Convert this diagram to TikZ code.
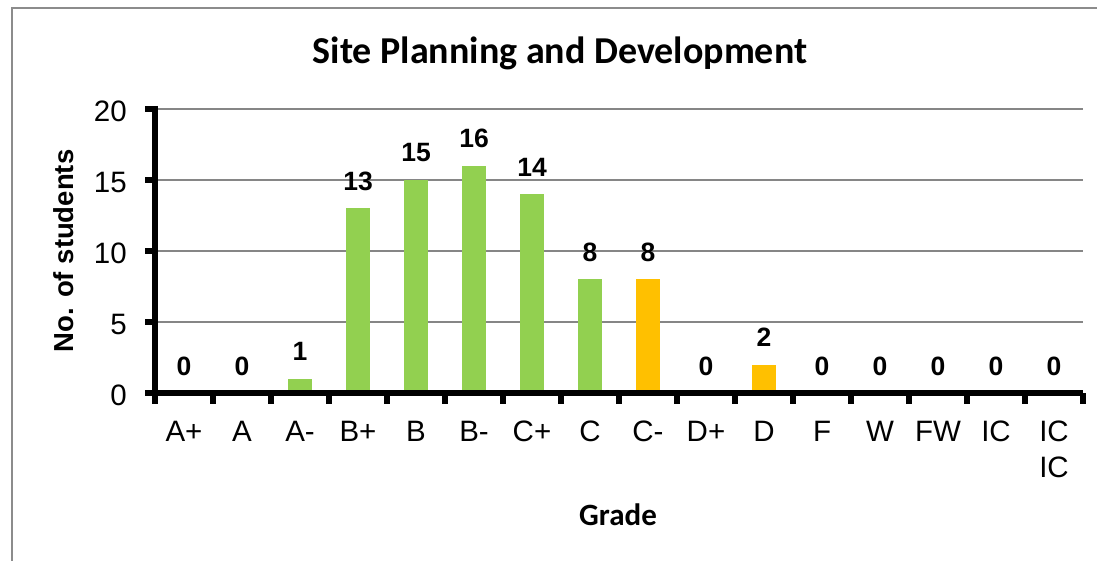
\documentclass[tikz,border=0pt]{standalone}
\usepackage{fontspec}
\setmainfont{Liberation Sans}
\newfontfamily\calfont{Carlito}
\definecolor{bargreen}{HTML}{92D050}
\definecolor{barorange}{HTML}{FFC000}
\definecolor{gridgray}{HTML}{868686}
\definecolor{framegray}{HTML}{8C8C8C}
\begin{document}
\begin{tikzpicture}[x=1pt,y=-1pt,
  gridline/.style={draw=gridgray, line width=2pt},
  axisline/.style={draw=black, line width=6pt},
  ticklab/.style={font=\fontsize{29.5}{36}\selectfont, inner sep=0pt},
  datalab/.style={font=\bfseries\fontsize{26.5}{30}\selectfont, inner sep=0pt},
  titlelab/.style={font=\calfont\bfseries\fontsize{38}{44}\selectfont, inner sep=0pt}]
\useasboundingbox (0,0) rectangle (1097,561);
% chart frame
\draw[framegray, line width=2pt] (1097,8) -- (12,8) -- (12,561);
% gridlines
\foreach \v in {0,5,10,15,20} {
  \draw[gridline] (155,{393-14.2*\v}) -- (1083,{393-14.2*\v});
}
% bars, data labels and category labels
\foreach \v/\c/\lab [count=\i from 0] in {0/bargreen/A+, 0/bargreen/A, 1/bargreen/A-, 13/bargreen/B+, 15/bargreen/B, 16/bargreen/B-, 14/bargreen/C+, 8/bargreen/C, 8/barorange/C-, 0/bargreen/D+, 2/barorange/D, 0/bargreen/F, 0/bargreen/W, 0/bargreen/FW, 0/bargreen/IC, 0/bargreen/{IC\\IC}} {
  \pgfmathsetmacro\cx{184+58*\i}
  \pgfmathsetmacro\bartop{393-14.2*\v}
  \ifnum\v>0 \fill[\c] (\cx-12,391) rectangle (\cx+12,\bartop); \fi
  \node[datalab] (val\i) at (\cx,\bartop-27) {\v};
  \node[ticklab, anchor=north, align=center] (cat\i) at (\cx,421) {\lab};
}
% axes
\draw[axisline] (155,106) -- (155,396);
\draw[axisline] (152,393) -- (1083,393);
\foreach \v in {0,5,10,15,20} {
  \draw[axisline] (145,{393-14.2*\v}) -- (155,{393-14.2*\v});
  \node[ticklab, anchor=east] (ylab\v) at (127,{393-14.2*\v+2}) {\v};
}
\foreach \k in {0,...,16} {
  \draw[axisline] ({155+58*\k},393) -- ({155+58*\k},404);
}
% titles
\node[titlelab, anchor=base] (title) at (560,64) {Site Planning and Development};
\node[titlelab, font=\calfont\bfseries\fontsize{31}{36}\selectfont] (xtitle) at (618,515) {Grade};
\node[font=\bfseries\fontsize{27.5}{32}\selectfont, inner sep=0pt, rotate=90] (ytitle) at (64,251) {No. of students};
\end{tikzpicture}
\end{document}
